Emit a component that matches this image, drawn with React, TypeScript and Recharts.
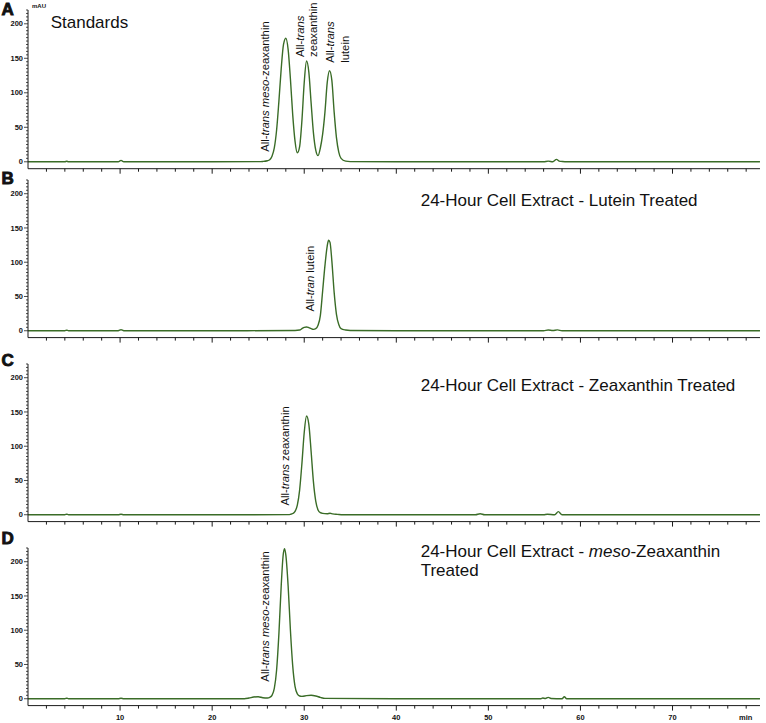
import React from 'react';
import { LineChart, Line, XAxis, YAxis, ReferenceDot } from 'recharts';

// ---------- data ----------
const timesA = [
  0, 4, 4.2, 4.4, 9.8, 10.1, 10.4, 20, 25, 25.5,
  26, 26.25, 26.5, 26.75, 27, 27.25, 27.5, 27.75, 28, 28.25,
  28.5, 28.75, 29, 29.25, 29.5, 29.75, 30, 30.25, 30.5, 30.75,
  31, 31.25, 31.5, 31.75, 32, 32.25, 32.5, 32.75, 33, 33.25,
  33.5, 33.75, 34, 34.5, 35, 40, 56, 56.5, 57, 57.4,
  57.7, 58, 58.5, 79.5,
];
const valuesA = [
  0, 0, 0.8, 0, 0, 2, 0, 0, 0.2, 0.5,
  1.5, 3, 8, 20, 46, 88, 135, 170, 179, 163,
  120, 68, 30, 13, 22, 60, 115, 146, 130, 85,
  42, 17, 9, 20, 40, 72, 115, 132, 118, 72,
  35, 14, 5, 1, 0.3, 0, 0, 1, 0, 3.5,
  1, 0.5, 0, 0,
];

const timesB = [
  0, 4, 4.2, 4.4, 9.8, 10.1, 10.4, 20, 29, 29.5,
  29.75, 30, 30.25, 30.5, 30.75, 31, 31.25, 31.5, 31.75, 32,
  32.25, 32.5, 32.65, 32.8, 33, 33.25, 33.5, 33.75, 34, 34.5,
  35, 40, 56, 56.5, 57, 57.5, 58, 79.5,
];
const valuesB = [
  0, 0, 0.8, 0, 0, 1.5, 0, 0, 0.3, 1,
  3, 5, 5.5, 4.5, 3, 2, 3, 8, 22, 58,
  95, 124, 132, 129, 102, 56, 24, 9, 3, 1,
  0.3, 0, 0, 1, 0.3, 1.2, 0, 0,
];

const timesC = [
  0, 4, 4.2, 4.4, 9.8, 10.1, 10.4, 20, 28.25, 28.5,
  28.75, 29, 29.25, 29.5, 29.75, 30, 30.25, 30.5, 30.75, 31,
  31.25, 31.5, 31.75, 32, 32.5, 32.8, 33.1, 33.6, 34.2, 40,
  48.6, 49.1, 49.6, 56, 56.4, 57.2, 57.6, 58, 79.5,
];
const valuesC = [
  0, 0, 0.8, 0, 0, 0.8, 0, 0, 0.2, 0.6,
  1.8, 5, 14, 36, 75, 120, 144, 132, 92, 48,
  20, 7, 3, 2, 1.5, 2.2, 1.2, 0.6, 0, 0,
  0, 1.5, 0, 0, 0.8, 0, 4.5, 0, 0,
];

const timesD = [
  0, 4, 4.2, 4.4, 9.8, 10.1, 10.4, 20, 23.5, 24,
  24.5, 25, 25.5, 26, 26.25, 26.5, 26.75, 27, 27.25, 27.5,
  27.7, 27.85, 28, 28.25, 28.5, 28.75, 29, 29.25, 29.5, 29.75,
  30.25, 30.75, 31.25, 31.75, 32.25, 40, 55.7, 55.9, 56.2, 56.5,
  56.8, 58, 58.25, 58.5, 79.5,
];
const valuesD = [
  0, 0, 0.8, 0, 0, 0.8, 0, 0, 0, 1,
  2.5, 3, 1.5, 1, 2, 5, 15, 42, 95, 165,
  208, 219, 210, 165, 100, 48, 18, 7, 4, 3.5,
  4.5, 5, 4, 2, 0.5, 0, 0, 1, 0.3, 2,
  0.3, 0, 3, 0, 0,
];

const xMinorTicks = [2, 4, 6, 8, 10, 12, 14, 16, 18, 20, 22, 24, 26, 28, 30, 32, 34, 36, 38, 40, 42, 44, 46, 48, 50, 52, 54, 56, 58, 60, 62, 64, 66, 68, 70, 72, 74, 76, 78];
const xLabelTicks = [10, 20, 30, 40, 50, 60, 70];
const yMinorTicks = [0, 5, 10, 15, 20, 25, 30, 35, 40, 45, 50, 55, 60, 65, 70, 75, 80, 85, 90, 95, 100, 105, 110, 115, 120, 125, 130, 135, 140, 145, 150, 155, 160, 165, 170, 175, 180, 185, 190, 195, 200, 205, 210, 215, 220];
const yLabelTicks = [0, 50, 100, 150, 200];

const panelLetters = ['A', 'B', 'C', 'D'];
const panelTitles = [
  'Standards',
  '24-Hour Cell Extract - Lutein Treated',
  '24-Hour Cell Extract - Zeaxanthin Treated',
  '24-Hour Cell Extract - meso-Zeaxanthin Treated',
];

type Part = [string, boolean];
type Ann = { t: number; v: number; parts: Part[] };

const annotationsA: Ann[] = [
  { t: 26.17, v: 14.5, parts: [['All-', false], ['trans', true], [' ', false], ['meso', true], ['-zeaxanthin', false]] },
  { t: 29.97, v: 152, parts: [['All-', false], ['trans', true]] },
  { t: 31.42, v: 152, parts: [['zeaxanthin', false]] },
  { t: 33.23, v: 143.5, parts: [['All-', false], ['trans', true]] },
  { t: 34.86, v: 143.5, parts: [['lutein', false]] },
];
const annotationsB: Ann[] = [
  { t: 31.06, v: 28, parts: [['All-', false], ['tran', true], [' lutein', false]] },
];
const annotationsC: Ann[] = [
  { t: 28.35, v: 13.6, parts: [['All-', false], ['trans', true], [' zeaxanthin', false]] },
];
const annotationsD: Ann[] = [
  { t: 26.17, v: 25, parts: [['All-', false], ['trans', true], [' ', false], ['meso', true], ['-zeaxanthin', false]] },
];

// ---------- helpers ----------
const FONT = 'Liberation Sans, Arial, sans-serif';
const LINE_COLOR = '#3a6c27';
const AXIS_COLOR = '#1a1a1a';

const toRows = (ts: number[], vs: number[]) => ts.map((t, i) => ({ t, v: vs[i] }));

const XTick = (props: any) => {
  const { x, y, payload, showLabel } = props;
  const v = payload.value;
  const major = xLabelTicks.includes(v);
  return (
    <g>
      <line x1={x} x2={x} y1={y} y2={y + (major ? 5 : 3)} stroke={AXIS_COLOR} strokeWidth={1} />
      {showLabel && major ? (
        <text x={x} y={y + 14} textAnchor="middle" fontSize={7.5} fontWeight="bold" fontFamily={FONT} fill="#111">
          {v}
        </text>
      ) : null}
    </g>
  );
};

const YTick = (props: any) => {
  const { x, y, payload } = props;
  const v = payload.value;
  const major = yLabelTicks.includes(v);
  return (
    <g>
      <line x1={x - (major ? 4 : 2)} x2={x} y1={y} y2={y} stroke={AXIS_COLOR} strokeWidth={0.8} />
      {major ? (
        <text x={x - 5} y={y + 2.6} textAnchor="end" fontSize={7.5} fontWeight="bold" fontFamily={FONT} fill="#111">
          {v}
        </text>
      ) : null}
    </g>
  );
};

const RotLabel = (props: any) => {
  const { cx, cy, parts } = props;
  return (
    <text
      x={cx}
      y={cy}
      transform={`rotate(-90 ${cx} ${cy})`}
      fontSize={11.3}
      fontFamily={FONT}
      fill="#111"
    >
      {parts.map((p: Part, i: number) => (
        <tspan key={i} fontStyle={p[1] ? 'italic' : 'normal'}>
          {p[0]}
        </tspan>
      ))}
    </text>
  );
};

type PanelProps = {
  rows: { t: number; v: number }[];
  plotTop: number;
  plotH: number;
  showLabels: boolean;
  anns: Ann[];
};

const Panel = ({ rows, plotTop, plotH, showLabels, anns }: PanelProps) => {
  const xH = showLabels ? 22 : 10;
  return (
    <div style={{ position: 'absolute', left: 0, top: plotTop - 10 }}>
      <LineChart
        width={766}
        height={10 + plotH + xH}
        data={rows}
        margin={{ top: 10, right: 6, bottom: 0, left: 0 }}
      >
        <XAxis
          dataKey="t"
          type="number"
          domain={[0, 79.5]}
          ticks={xMinorTicks}
          interval={0}
          allowDataOverflow
          height={xH}
          tickSize={0}
          tickMargin={0}
          tickLine={false}
          axisLine={{ stroke: AXIS_COLOR, strokeWidth: 1 }}
          tick={(p: any) => <XTick {...p} showLabel={showLabels} />}
        />
        <YAxis
          type="number"
          domain={[-10, 220]}
          ticks={yMinorTicks}
          interval={0}
          allowDataOverflow
          width={28}
          tickSize={0}
          tickMargin={0}
          tickLine={false}
          axisLine={{ stroke: AXIS_COLOR, strokeWidth: 1 }}
          tick={(p: any) => <YTick {...p} />}
        />
        <Line
          type="monotone"
          dataKey="v"
          stroke={LINE_COLOR}
          strokeWidth={1.4}
          dot={false}
          activeDot={false}
          isAnimationActive={false}
        />
        {anns.map((a, i) => (
          <ReferenceDot
            key={i}
            x={a.t}
            y={a.v}
            r={0}
            ifOverflow="visible"
            shape={(p: any) => <RotLabel cx={p.cx} cy={p.cy} parts={a.parts} />}
          />
        ))}
      </LineChart>
    </div>
  );
};

export default function App() {
  const titleStyle = { fontSize: 17, fontFamily: FONT, fill: '#111' } as const;
  const letterStyle = {
    fontSize: 17,
    fontFamily: FONT,
    fontWeight: 'bold',
    fill: '#111',
    stroke: '#111',
    strokeWidth: 0.9,
  } as const;
  return (
    <div style={{ position: 'absolute', left: 0, top: 0, width: 766, height: 723, background: '#fff', overflow: 'hidden' }}>
      <Panel rows={toRows(timesA, valuesA)} plotTop={10} plotH={158.7} showLabels={false} anns={annotationsA} />
      <Panel rows={toRows(timesB, valuesB)} plotTop={180.3} plotH={157.6} showLabels={false} anns={annotationsB} />
      <Panel rows={toRows(timesC, valuesC)} plotTop={363.6} plotH={157.6} showLabels={false} anns={annotationsC} />
      <Panel rows={toRows(timesD, valuesD)} plotTop={548.3} plotH={157.6} showLabels={true} anns={annotationsD} />
      <svg width={766} height={723} style={{ position: 'absolute', left: 0, top: 0, pointerEvents: 'none' }}>
        <text x={1.5} y={15} {...letterStyle}>{panelLetters[0]}</text>
        <text x={1.5} y={184} {...letterStyle}>{panelLetters[1]}</text>
        <text x={1.5} y={366} {...letterStyle}>{panelLetters[2]}</text>
        <text x={1.5} y={544} {...letterStyle}>{panelLetters[3]}</text>
        <text x={32} y={8} fontSize={6} fontWeight="bold" fontFamily={FONT} fill="#111">mAU</text>
        <text x={50.7} y={28} {...titleStyle}>{panelTitles[0]}</text>
        <text x={420.7} y={206} {...titleStyle}>{panelTitles[1]}</text>
        <text x={420.7} y={391} {...titleStyle}>{panelTitles[2]}</text>
        <text x={420.7} y={557} {...titleStyle}>
          24-Hour Cell Extract - <tspan fontStyle="italic">meso</tspan>-Zeaxanthin
        </text>
        <text x={420.7} y={576} {...titleStyle}>Treated</text>
        <text x={739} y={720} fontSize={7.5} fontWeight="bold" fontFamily={FONT} fill="#111">min</text>
      </svg>
    </div>
  );
}
